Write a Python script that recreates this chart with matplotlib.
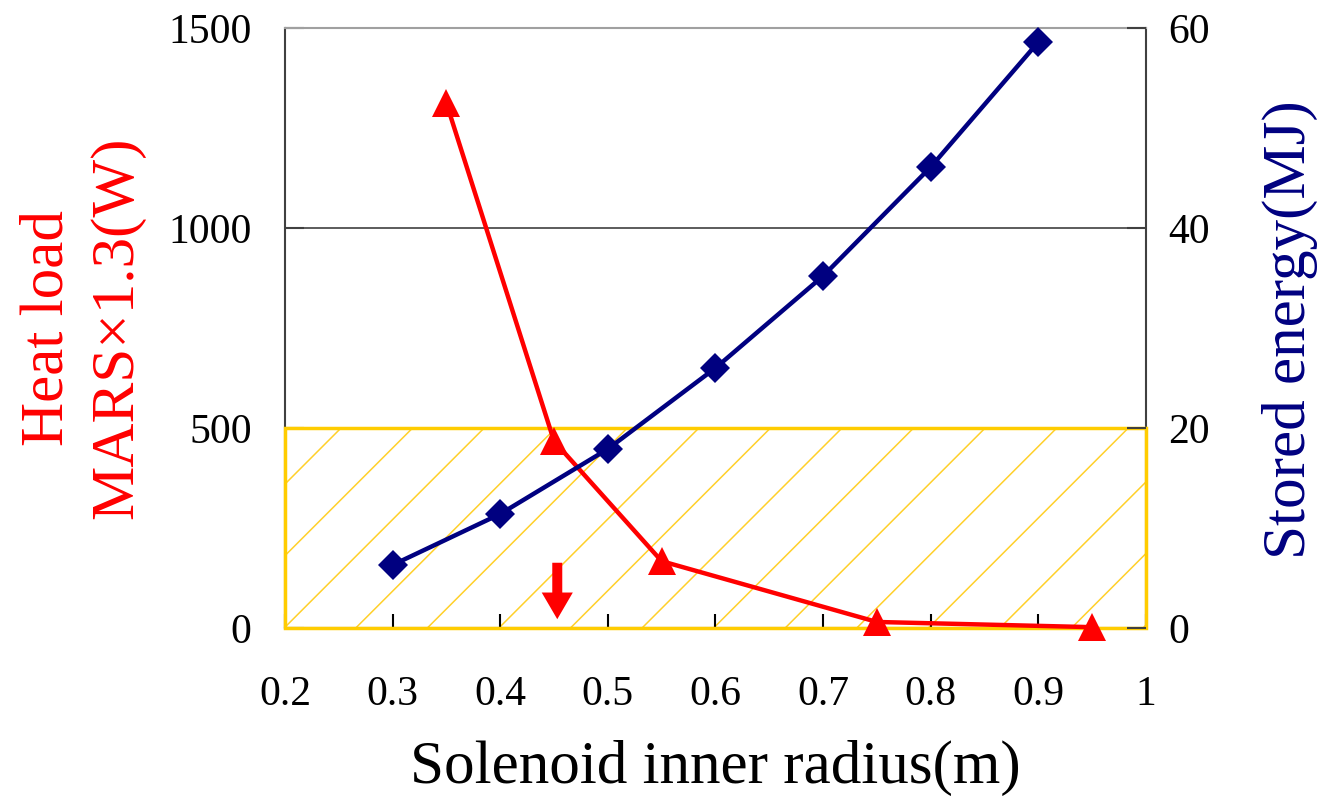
import matplotlib
matplotlib.use("Agg")
import matplotlib.pyplot as plt
from matplotlib.patches import Rectangle, FancyArrowPatch

plt.rcParams['font.family'] = ['Liberation Serif', 'DejaVu Serif']

# heat load (left axis)
radius_heat = [0.35, 0.45, 0.55, 0.75, 0.95]
heat_load = [1312, 467, 167, 15, 2]

# stored energy (right axis)
radius_energy = [0.3, 0.4, 0.5, 0.6, 0.7, 0.8, 0.9]
stored_energy = [6.3, 11.4, 17.9, 26.0, 35.2, 46.1, 58.6]

xticks = [0.2, 0.3, 0.4, 0.5, 0.6, 0.7, 0.8, 0.9, 1.0]
xtick_labels = ['0.2', '0.3', '0.4', '0.5', '0.6', '0.7', '0.8', '0.9', '1']
yticks_left = [0, 500, 1000, 1500]
yticks_right = [0, 20, 40, 60]

limit_box = (0.2, 1.0, 0, 500)     # x0, x1, y0, y1 of the allowed region
arrow_x, arrow_from, arrow_to = 0.453, 170, 15

fig = plt.figure(figsize=(13.23, 7.96), dpi=100)
ax = fig.add_axes([0.2154, 0.2111, 0.6508, 0.7537])
ax2 = ax.twinx()

ax.set_xlim(0.2, 1.0)
ax.set_ylim(0, 1500)
ax2.set_ylim(0, 60)

ax.set_xticks(xticks)
ax.set_xticklabels(xtick_labels)
ax.set_yticks(yticks_left)
ax2.set_yticks(yticks_right)

ax.tick_params(axis='x', direction='in', length=10, width=1.5, pad=34, labelsize=30)
ax.tick_params(axis='y', direction='in', length=14, width=1.5, pad=24, labelsize=30,
               color='#404040')
ax2.tick_params(axis='y', direction='in', length=14, width=1.5, pad=16, labelsize=30,
                color='#404040')

# only the first axes draws the frame, so the yellow box can sit on top of it
for s in ax2.spines.values():
    s.set_visible(False)
ax.spines['left'].set_color('#404040')
ax.spines['right'].set_color('#404040')
ax.spines['bottom'].set_color('#404040')
ax.spines['top'].set_color('#a0a0a0')
for s in ax.spines.values():
    s.set_linewidth(1.5)

ax.axhline(1000, color='#404040', lw=1.2, zorder=1)

# yellow limit box with sparse diagonal hatch
x0, x1, y0, y1 = limit_box
box = Rectangle((x0, y0), x1 - x0, y1 - y0, fill=False, edgecolor='#ffcc00',
                lw=2.5, zorder=3, clip_on=False)
ax.add_patch(box)
clip = Rectangle((x0, y0), x1 - x0, y1 - y0, transform=ax.transData, visible=False)
ax.add_patch(clip)
dx = 0.1858          # 45 degree run across the box height
step = 0.0665
start = x0 + 0.011 - dx * 4
while start < x1:
    ln, = ax.plot([start, start + dx], [y0, y1], color='#ffd02a', lw=1.1, zorder=1.5)
    ln.set_clip_path(clip)
    start += step

ax.plot(radius_heat, heat_load, color='red', lw=3.2, marker='^', markersize=20,
        markeredgewidth=0, zorder=4, clip_on=False)
ax2.plot(radius_energy, stored_energy, color='#000080', lw=3.2, marker='D', markersize=15,
         markeredgewidth=0, zorder=4, clip_on=False)

arrow = FancyArrowPatch((arrow_x, arrow_from), (arrow_x, arrow_to),
                        arrowstyle='simple,head_length=1.2,head_width=1.4,tail_width=0.45',
                        mutation_scale=16, color='red', lw=0, zorder=5)
ax.add_patch(arrow)

ax.set_xlabel('Solenoid inner radius(m)', fontsize=44, labelpad=19)
ax.set_ylabel('Heat load\nMARS×1.3(W)', color='red', fontsize=44, linespacing=1.35,
              va='center', ha='center')
ax.yaxis.set_label_coords(-0.235, 0.5)
ax2.set_ylabel('Stored energy(MJ)', color='#000080', fontsize=44, va='center', ha='center')
ax2.yaxis.set_label_coords(1.167, 0.497)

fig.savefig('out.png', dpi=100)
